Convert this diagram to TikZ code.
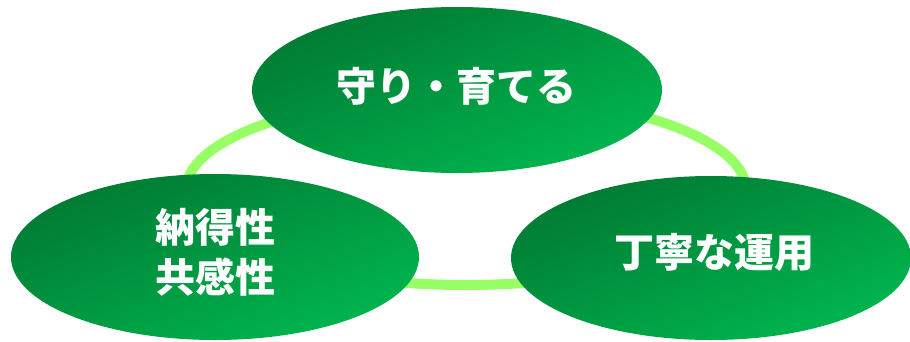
\documentclass[tikz,border=0pt]{standalone}
\usepackage{fontspec}
\newfontfamily\jpfont{Noto Sans CJK JP}
\usetikzlibrary{shapes.geometric}
\definecolor{gdark}{HTML}{007A33}
\definecolor{glight}{HTML}{00B64F}
\definecolor{ringgreen}{HTML}{99FF66}
\tikzset{
  blob/.style={ellipse, inner sep=0pt, top color=gdark, bottom color=glight, shading angle=22,
    text=white, align=center, font=\jpfont\bfseries\fontsize{39}{50}\selectfont},
  ringline/.style={draw=ringgreen, line width=10pt},
  label/.style={text=white, align=center, font=\jpfont\bfseries\fontsize{40}{50}\selectfont}
}
\begin{document}
\begin{tikzpicture}[x=1pt,y=-1pt]
\useasboundingbox (0,0) rectangle (910,341);
\coordinate (rc) at (466,190);
\draw[ringline] (rc) ellipse [x radius=280, y radius=95];
\node[blob, minimum width=410pt, minimum height=166pt] (top) at (457,90) {};
\node[blob, minimum width=408pt, minimum height=166pt] (left) at (215,257) {};
\node[blob, minimum width=400pt, minimum height=164pt] (right) at (711,258) {};
\node[label] (ttop) at (456,86) {守り・育てる};
\node[label] (tleft) at (215,252) {納得性\\共感性};
\node[label] (tright) at (714,252) {丁寧な運用};
\end{tikzpicture}
\end{document}
